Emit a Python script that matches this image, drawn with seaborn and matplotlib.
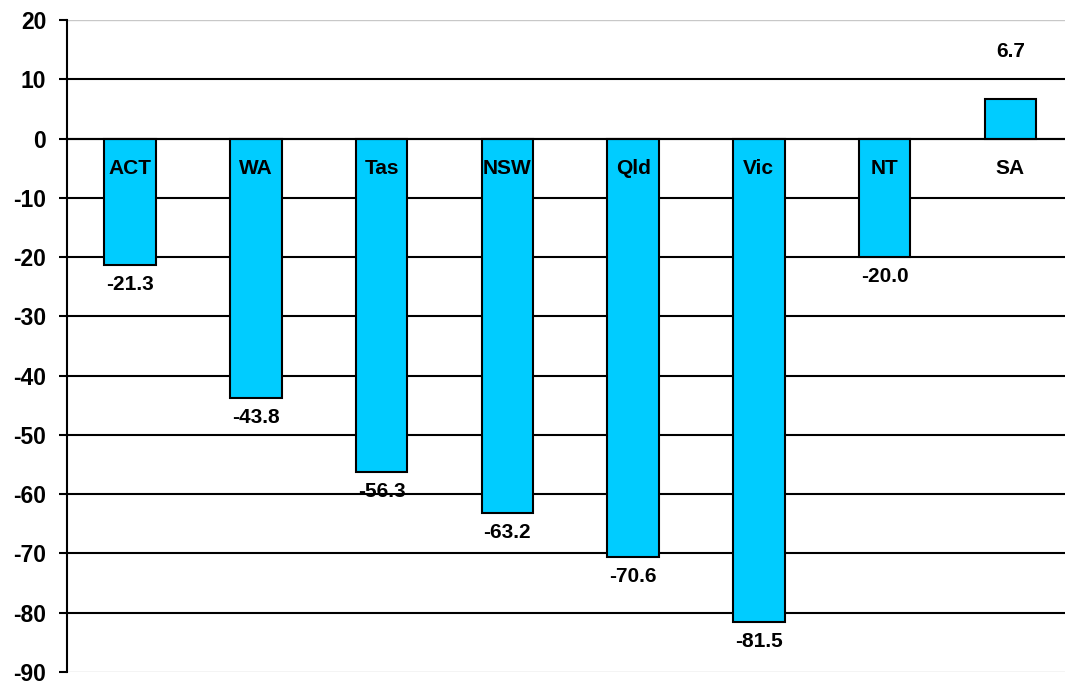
import matplotlib
matplotlib.use("Agg")
import matplotlib.pyplot as plt
import seaborn as sns
import pandas as pd

# State values
states = ["ACT", "WA", "Tas", "NSW", "Qld", "Vic", "NT", "SA"]
values = [-21.3, -43.8, -56.3, -63.2, -70.6, -81.5, -20.0, 6.7]
yticks = [20, 10, 0, -10, -20, -30, -40, -50, -60, -70, -80, -90]

sns.set_style("white")
plt.rcParams["font.family"] = ["Liberation Sans", "DejaVu Sans"]
plt.rcParams["font.weight"] = "bold"
plt.rcParams["text.color"] = "black"
plt.rcParams["ytick.color"] = "black"
plt.rcParams["xtick.color"] = "black"

df = pd.DataFrame({"state": states, "value": values})

fig = plt.figure(figsize=(10.65, 6.86), dpi=100)
ax = fig.add_axes([67.2 / 1065, 14 / 686, 1006 / 1065, 652 / 686])

sns.barplot(data=df, x="state", y="value", order=states, color="#00CCFF",
            saturation=1, width=0.41, edgecolor="black", linewidth=1.5,
            ax=ax, zorder=3)

ax.set_ylim(-90, 20)
ax.set_xlim(-0.5, len(states) - 0.5)
ax.set_yticks(yticks)
ax.set_yticklabels([str(t) for t in yticks], fontsize=16.5, fontweight="bold",
                   color="black")
ax.set_xlabel("")
ax.set_ylabel("")

# horizontal gridlines: black inside, light grey at the extremes
for t in yticks:
    col = "#c8c8c8" if t in (20, -90) else "black"
    lw = 1.0 if t in (20, -90) else 1.5
    ax.axhline(t, color=col, linewidth=lw, zorder=1)

# category axis sits at zero with small ticks between categories
for s in ["top", "right"]:
    ax.spines[s].set_visible(False)
ax.spines["bottom"].set_position(("data", 0))
ax.spines["bottom"].set_linewidth(1.5)
ax.spines["bottom"].set_color("black")
ax.spines["bottom"].set_zorder(4)
ax.spines["left"].set_linewidth(1.5)
ax.spines["left"].set_color("black")
ax.set_xticks([i + 0.5 for i in range(len(states))])
ax.set_xticklabels([])
ax.tick_params(axis="x", direction="out", length=4, width=1.5, color="black")
ax.tick_params(axis="y", direction="out", length=6, width=1.5, color="black",
               pad=9, left=True)

# category names just below the zero line
for i, s in enumerate(states):
    ax.text(i, -5, s, ha="center", va="center", fontsize=15,
            fontweight="bold", color="black", zorder=5)

# value labels beyond the bar ends
for i, v in enumerate(values):
    off = 34 if v > 0 else -14
    ax.annotate(f"{v:.1f}", xy=(i, v), xytext=(0, off),
                textcoords="offset points", ha="center", va="center",
                fontsize=15, fontweight="bold", color="black", zorder=5,
                annotation_clip=False)

fig.savefig("out.png", dpi=100)
